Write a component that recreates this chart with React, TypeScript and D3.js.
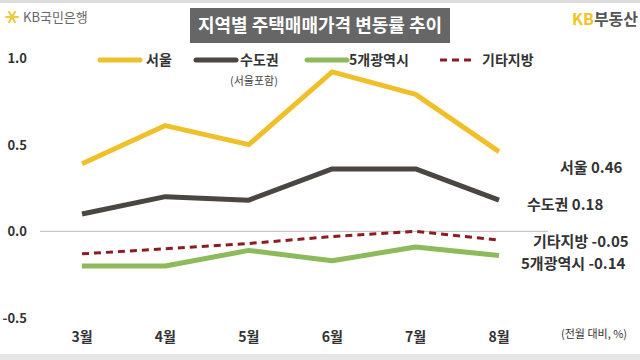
import React, { useRef, useEffect } from 'react';
import * as d3 from 'd3';

const months = ['3월', '4월', '5월', '6월', '7월', '8월'];
const seoul = [0.39, 0.61, 0.5, 0.92, 0.79, 0.46];
const capital = [0.1, 0.2, 0.18, 0.36, 0.36, 0.18];
const metro5 = [-0.2, -0.2, -0.11, -0.17, -0.09, -0.14];
const others = [-0.13, -0.1, -0.07, -0.03, 0.0, -0.05];
const yTicks = [1.0, 0.5, 0.0, -0.5];

const series = [
  { name: '서울', values: seoul, color: '#f0c02a', dash: null, endLabel: '서울 0.46', lx: 100, tx: 146, ex: 560, ey: 173 },
  { name: '수도권', values: capital, color: '#4a4743', dash: null, endLabel: '수도권 0.18', lx: 196, tx: 240, ex: 527, ey: 210 },
  { name: '5개광역시', values: metro5, color: '#8dba5a', dash: null, endLabel: '5개광역시 -0.14', lx: 307, tx: 349, ex: 521, ey: 269 },
  { name: '기타지방', values: others, color: '#8c1c22', dash: '7,5', endLabel: '기타지방 -0.05', lx: 440, tx: 482, ex: 533, ey: 247 },
];

const FONT = '"Noto Sans CJK KR", "Noto Sans", sans-serif';

const App: React.FC = () => {
  const ref = useRef<SVGSVGElement | null>(null);

  useEffect(() => {
    if (!ref.current) return;
    const svg = d3.select(ref.current);
    svg.selectAll('*').remove();
    const width = 640;
    const height = 360;

    const x = d3.scalePoint<string>().domain(months).range([82, 499]);
    const y = d3.scaleLinear().domain([-0.5, 1.0]).range([318, 58]);

    svg.append('rect').attr('width', width).attr('height', height).attr('fill', '#fff');
    svg.append('rect').attr('width', width).attr('height', 3).attr('fill', '#dcdcdc');
    svg.append('rect').attr('y', 354).attr('width', width).attr('height', 6).attr('fill', '#e6e6e6');

    // logos
    const star = svg.append('g').attr('transform', 'translate(12,17)');
    d3.range(6).forEach(i => {
      const a = (i * Math.PI) / 3;
      star.append('line')
        .attr('x1', 0).attr('y1', 0)
        .attr('x2', Math.cos(a) * 6).attr('y2', Math.sin(a) * 6)
        .attr('stroke', '#f2c83c').attr('stroke-width', 2).attr('stroke-linecap', 'round');
    });
    svg.append('text').attr('x', 23).attr('y', 22).attr('font-family', FONT)
      .attr('font-size', 13).attr('fill', '#666').text('KB국민은행');

    const kb = svg.append('text').attr('x', 572).attr('y', 25).attr('font-family', FONT)
      .attr('font-size', 16).attr('font-weight', 'bold');
    kb.append('tspan').attr('fill', '#f2c31d').text('KB');
    kb.append('tspan').attr('fill', '#555').text('부동산');

    // title
    svg.append('rect').attr('x', 190).attr('y', 8).attr('width', 260).attr('height', 35).attr('fill', '#666');
    svg.append('text').attr('x', 320).attr('y', 32).attr('text-anchor', 'middle')
      .attr('font-family', FONT).attr('font-size', 18).attr('font-weight', 'bold')
      .attr('fill', '#fff').text('지역별 주택매매가격 변동률 추이');

    // y labels
    svg.selectAll('.ytick').data(yTicks).enter().append('text')
      .attr('x', 27).attr('y', d => y(d) + 5).attr('text-anchor', 'end')
      .attr('font-family', FONT).attr('font-size', 13).attr('font-weight', 'bold')
      .attr('fill', '#333').text(d => d.toFixed(1));

    // zero line
    svg.append('line').attr('x1', 40).attr('x2', 548).attr('y1', y(0)).attr('y2', y(0))
      .attr('stroke', '#c8c8c8').attr('stroke-width', 1.2);

    // x labels
    svg.selectAll('.xtick').data(months).enter().append('text')
      .attr('x', d => x(d) as number).attr('y', 342).attr('text-anchor', 'middle')
      .attr('font-family', FONT).attr('font-size', 14).attr('font-weight', 'bold')
      .attr('fill', '#333').text(d => d);

    svg.append('text').attr('x', 561).attr('y', 338).attr('font-family', FONT)
      .attr('font-size', 11).attr('fill', '#333').text('(전월 대비, %)');

    const line = d3.line<number>().x((_, i) => x(months[i]) as number).y(d => y(d));

    series.forEach(s => {
      const p = svg.append('path').datum(s.values).attr('d', line).attr('fill', 'none')
        .attr('stroke', s.color).attr('stroke-width', s.dash ? 3 : 5)
        .attr('stroke-linejoin', 'round');
      if (s.dash) p.attr('stroke-dasharray', s.dash);

      // legend
      const ly = 60;
      const l = svg.append('line').attr('x1', s.lx).attr('x2', s.lx + (s.dash ? 32 : 40))
        .attr('y1', ly).attr('y2', ly).attr('stroke', s.color)
        .attr('stroke-width', s.dash ? 3 : 5).attr('stroke-linecap', s.dash ? 'butt' : 'round');
      if (s.dash) l.attr('stroke-dasharray', s.dash);
      svg.append('text').attr('x', s.tx).attr('y', ly + 5).attr('font-family', FONT)
        .attr('font-size', 14).attr('font-weight', 'bold').attr('fill', '#333').text(s.name);

      // end labels
      svg.append('text').attr('x', s.ex).attr('y', s.ey).attr('font-family', FONT)
        .attr('font-size', 15).attr('font-weight', 'bold').attr('fill', '#333').text(s.endLabel);
    });

    svg.append('text').attr('x', 254).attr('y', 85).attr('text-anchor', 'middle')
      .attr('font-family', FONT).attr('font-size', 11).attr('fill', '#444').text('(서울포함)');
  }, []);

  return (
    <svg ref={ref} width={640} height={360}
      style={{ position: 'absolute', left: 0, top: 0, display: 'block' }} />
  );
};

export default App;
